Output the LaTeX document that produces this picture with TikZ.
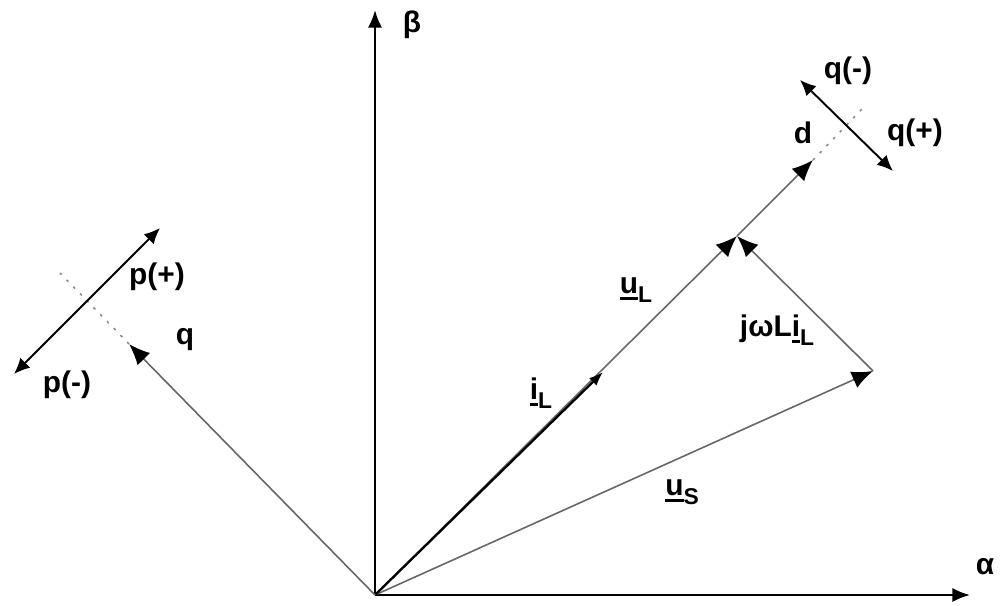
\documentclass[tikz,border=0pt]{standalone}
\usepackage{fontspec}
\setmainfont{Liberation Sans}
\usetikzlibrary{arrows.meta}
\newsavebox{\phbox}
\newcommand{\phasor}[2]{\sbox{\phbox}{#1}\rlap{\rule[-3.5pt]{\wd\phbox}{1.3pt}}\usebox{\phbox}\raisebox{-0.55ex}{\fontsize{13}{13}\selectfont #2}}
\tikzset{
  axis/.style={line width=1.3pt, -{Latex[length=10pt,width=8pt]}},
  vec/.style={draw=black!60, line width=0.9pt, -{Latex[length=12pt,width=10pt,black]}},
  cur/.style={line width=1.3pt, -{Latex[length=8pt,width=6pt]}},
  dir/.style={line width=1.1pt, {Latex[length=9pt,width=8pt]}-{Latex[length=9pt,width=8pt]}},
  ext/.style={draw=black!45, line width=0.9pt, dash pattern=on 1.5pt off 4pt},
  lbl/.style={font=\fontsize{17}{20}\selectfont\bfseries, inner sep=0pt}
}
\begin{document}
\begin{tikzpicture}[x=0.2mm, y=-0.2mm]
    \useasboundingbox (0,0) rectangle (1000,606);

    % Koordinatenpunkte
    \coordinate (O) at (375,595);
    \coordinate (A) at (970,595);
    \coordinate (B) at (375,10);
    \coordinate (I) at (603,372);
    \coordinate (M) at (737,236);
    \coordinate (S) at (873,371);
    \coordinate (D) at (813,160);
    \coordinate (De) at (863,108);
    \coordinate (Q) at (129,344);
    \coordinate (Qe) at (60,273);
    \coordinate (P1) at (14,374);
    \coordinate (P2) at (160,228);
    \coordinate (R1) at (800,80);
    \coordinate (R2) at (893,171);

    % Achsen
    \draw[axis] (O) -- (A);
    \draw[axis] (O) -- (B);

    % Zeiger
    \draw[vec] (O) -- (M);
    \draw[vec] (O) -- (S);
    \draw[vec] (S) -- (M);
    \draw[cur] (O) -- (I);
    \draw[vec] (M) -- (D);
    \draw[ext] (D) -- (De);
    \draw[vec] (O) -- (Q);
    \draw[ext] (Q) -- (Qe);

    % Richtungen p und q
    \draw[dir] (P1) -- (P2);
    \draw[dir] (R1) -- (R2);

    % Beschriftungen
    \node[lbl] (beta) at (412,25) {β};
    \node[lbl] (alpha) at (985,567) {α};
    \node[lbl] (pplus) at (157,277) {p(+)};
    \node[lbl] (pminus) at (67,385) {p(-)};
    \node[lbl] (qlbl) at (185,340) {q};
    \node[lbl] (qminus) at (848,71) {q(-)};
    \node[lbl] (qplus) at (915,133) {q(+)};
    \node[lbl] (dlbl) at (803,133) {d};
    \node[lbl] (uL) at (636,290) {\phasor{u}{L}};
    \node[lbl] (jwL) at (777,330) {jωL\phasor{i}{L}};
    \node[lbl] (iL) at (541,393) {\phasor{i}{L}};
    \node[lbl] (uS) at (682,492) {\phasor{u}{S}};
\end{tikzpicture}
\end{document}
